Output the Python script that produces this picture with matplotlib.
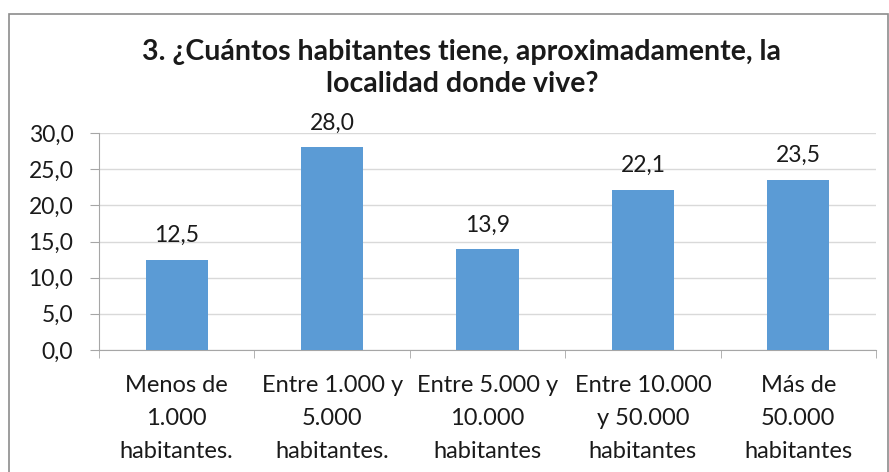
import matplotlib
matplotlib.use("Agg")
import matplotlib.pyplot as plt
from matplotlib.patches import Rectangle
from matplotlib.ticker import FixedLocator

categories = ["Menos de\n1.000\nhabitantes.", "Entre 1.000 y\n5.000\nhabitantes.",
              "Entre 5.000 y\n10.000\nhabitantes", "Entre 10.000\ny 50.000\nhabitantes",
              "Más de\n50.000\nhabitantes"]
values = [12.5, 28.0, 13.9, 22.1, 23.5]
yticks = [0, 5, 10, 15, 20, 25, 30]
title_lines = ["3. ¿Cuántos habitantes tiene, aproximadamente, la",
               "localidad donde vive?"]

plt.rcParams['font.family'] = ['Lato', 'DejaVu Sans']
W, H = 889, 472

fig = plt.figure(figsize=(W / 100, H / 100), dpi=100)
ax = fig.add_axes([99 / W, 1 - 350 / H, 777 / W, 217 / H])

# chart frame
fig.patches.append(Rectangle((9 / W, -0.1), 879 / W - 0.0005, 1.1 - 14 / H,
                             transform=fig.transFigure, fill=False,
                             edgecolor='#8c8c8c', linewidth=1.2))

x = range(len(values))
bars = ax.bar(x, values, width=0.4, color='#5B9BD5', zorder=3)
ax.bar_label(bars, labels=[f"{v:.1f}".replace('.', ',') for v in values],
             padding=10, fontsize=16.5, color='#1a1a1a')

ax.set_xlim(-0.5, len(values) - 0.5)
ax.set_ylim(0, 30)
ax.set_yticks(yticks)
ax.set_yticklabels([f"{v:.1f}".replace('.', ',') for v in yticks])
ax.yaxis.grid(True, color='#d9d9d9', linewidth=1, zorder=0)

# category labels, one line at a time (baselines 42, 75, 108 px below the axis)
ax.set_xticks(list(x))
ax.set_xticklabels([""] * len(categories))
for i, cat in enumerate(categories):
    for k, line in enumerate(cat.split("\n")):
        ax.annotate(line, xy=(i, 0), xycoords=ax.get_xaxis_transform(),
                    xytext=(0, -(42 + 33 * k) * 0.72), textcoords='offset points',
                    ha='center', va='baseline', fontsize=17, color='#1a1a1a')

ax.xaxis.set_minor_locator(FixedLocator([i - 0.5 for i in range(len(values) + 1)]))
ax.tick_params(axis='x', which='major', length=0)
ax.tick_params(axis='x', which='minor', length=6, color='#a6a6a6', direction='out')
ax.tick_params(axis='y', length=6.5, color='#a6a6a6', pad=12, labelsize=16.5,
               labelcolor='#1a1a1a')

for s in ['top', 'right']:
    ax.spines[s].set_visible(False)
for s in ['left', 'bottom']:
    ax.spines[s].set_color('#a6a6a6')

for k, line in enumerate(title_lines):
    fig.text(462 / W, 1 - (60 + 32 * k) / H, line, ha='center', va='baseline',
             fontsize=20.5, fontweight='bold', color='#1a1a1a')

fig.savefig("out.png", dpi=100)
